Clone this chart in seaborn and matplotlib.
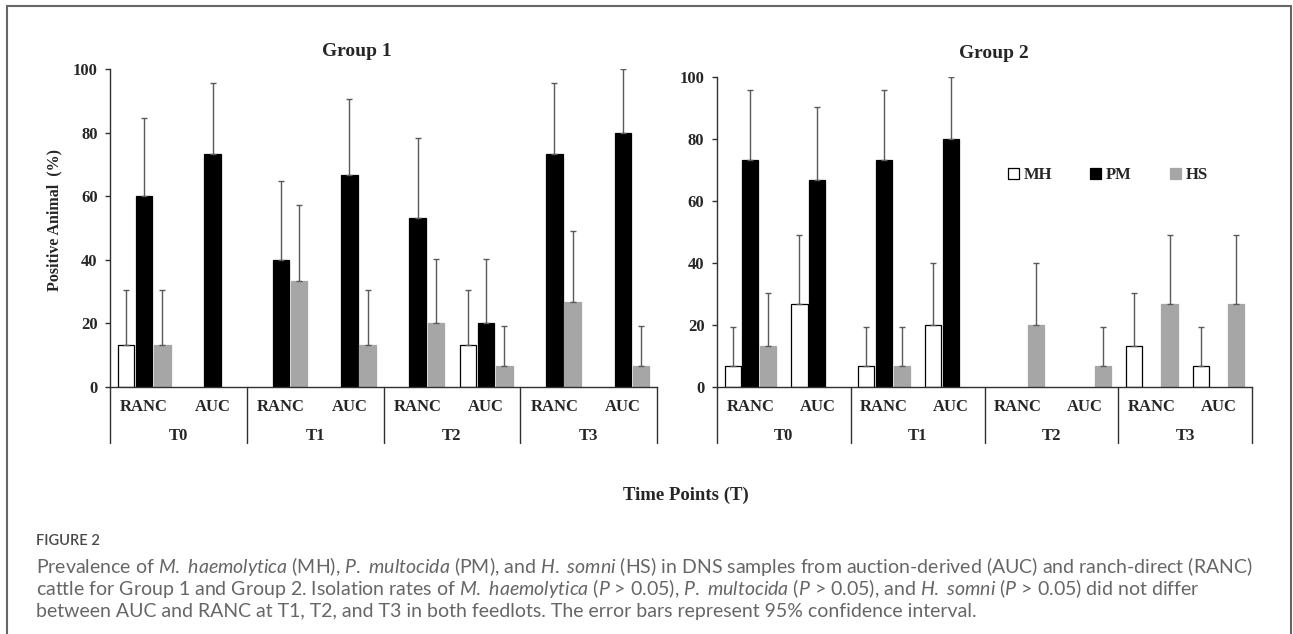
import numpy as np
import pandas as pd
import matplotlib
matplotlib.use("Agg")
import matplotlib.pyplot as plt
from matplotlib.patches import Patch, Rectangle
import seaborn as sns

# slots: T0 RANC, T0 AUC, T1 RANC, T1 AUC, T2 RANC, T2 AUC, T3 RANC, T3 AUC
time_points = ["T0", "T1", "T2", "T3"]
sources = ["RANC", "AUC"]
organisms = ["MH", "PM", "HS"]

g1_mh = [13.3, 0, 0, 0, 0, 13.3, 0, 0]
g1_pm = [60.0, 73.3, 40.0, 66.7, 53.3, 20.0, 73.3, 80.0]
g1_hs = [13.3, 0, 33.3, 13.3, 20.0, 6.7, 26.7, 6.7]
g1_mh_hi = [30.5, 0, 0, 0, 0, 30.5, 0, 0]
g1_pm_hi = [84.6, 95.7, 64.8, 90.5, 78.4, 40.3, 95.7, 100.0]
g1_hs_hi = [30.5, 0, 57.2, 30.5, 40.3, 19.1, 49.1, 19.1]

g2_mh = [6.7, 26.7, 6.7, 20.0, 0, 0, 13.3, 6.7]
g2_pm = [73.3, 66.7, 73.3, 80.0, 0, 0, 0, 0]
g2_hs = [13.3, 0, 6.7, 0, 20.0, 6.7, 26.7, 26.7]
g2_mh_hi = [19.3, 49.1, 19.3, 40.0, 0, 0, 30.3, 19.3]
g2_pm_hi = [95.7, 90.3, 95.7, 100.0, 0, 0, 0, 0]
g2_hs_hi = [30.3, 0, 19.3, 0, 40.0, 19.3, 49.1, 49.1]

colors = {"MH": "white", "PM": "black", "HS": "#a6a6a6"}
edges = {"MH": "black", "PM": "black", "HS": "#a6a6a6"}

W, H = 1293, 634
sns.set_style("white")
plt.rcParams["font.family"] = ["Liberation Serif", "DejaVu Serif"]
plt.rcParams["mathtext.fontset"] = "custom"
plt.rcParams["mathtext.rm"] = "Lato:weight=normal"
plt.rcParams["mathtext.it"] = "Lato:style=italic:weight=normal"


def fx(px):
    return px / W


def fy(py):
    return 1 - py / H


def long_form(mh, pm, hs):
    slots = [t + "-" + s for t in time_points for s in sources]
    rows = []
    for org, vals in zip(organisms, [mh, pm, hs]):
        for slot, v in zip(slots, vals):
            rows.append({"slot": slot, "organism": org, "value": v})
    return pd.DataFrame(rows), slots


def panel(ax, mh, pm, hs, his, title, title_xy):
    df, slots = long_form(mh, pm, hs)
    sns.barplot(data=df, x="slot", y="value", hue="organism", order=slots,
                hue_order=organisms, palette=colors, width=0.8, gap=0.1,
                saturation=1, errorbar=None, legend=False, ax=ax)
    for org, cont, hi in zip(organisms, ax.containers, his):
        for bar, top in zip(cont, hi):
            h = bar.get_height()
            bar.set_edgecolor(edges[org])
            bar.set_linewidth(0.9)
            if h <= 0:
                bar.set_visible(False)
                continue
            cx = bar.get_x() + bar.get_width() / 2
            ax.errorbar(cx, h, yerr=[[0], [top - h]], fmt="none", ecolor="#5a5a5a",
                        elinewidth=1.0, capsize=2.3, capthick=1.0, zorder=3)

    ax.set_ylim(0, 100)
    ax.set_xlim(-0.5, 7.5)
    ax.set_yticks([0, 20, 40, 60, 80, 100])
    ax.tick_params(axis="y", labelsize=12, length=3.5, width=1, color="#303030",
                   left=True, pad=5.5)
    for lab in ax.get_yticklabels():
        lab.set_fontweight("bold")
    ax.set_xticks([])
    ax.set_xlabel("")
    ax.set_ylabel("")
    sns.despine(ax=ax)
    for side in ["left", "bottom"]:
        ax.spines[side].set_color("#303030")
        ax.spines[side].set_linewidth(1.0)

    hpx = ax.get_position().height * H
    trans = ax.get_xaxis_transform()
    for i, slot in enumerate(slots):
        ax.text(i, -20 / hpx, slot.split("-")[1], transform=trans, ha="center",
                va="center", fontsize=12, fontweight="bold")
    for k, t in enumerate(time_points):
        ax.text(2 * k + 0.5, -49 / hpx, t, transform=trans, ha="center",
                va="center", fontsize=12, fontweight="bold")
    for xb in [-0.5, 1.5, 3.5, 5.5, 7.5]:
        ax.plot([xb, xb], [0, -56 / hpx], transform=trans, clip_on=False,
                color="#303030", lw=1.0)

    fig.text(fx(title_xy[0]), fy(title_xy[1]), title, ha="center", va="center",
             fontsize=14, fontweight="bold")


fig = plt.figure(figsize=(W / 100, H / 100), dpi=100)

ax1 = fig.add_axes([fx(110), fy(387), (657 - 110) / W, (387 - 69) / H])
ax2 = fig.add_axes([fx(717), fy(387), (1252 - 717) / W, (387 - 77) / H])

panel(ax1, g1_mh, g1_pm, g1_hs, [g1_mh_hi, g1_pm_hi, g1_hs_hi], "Group 1", (357, 52))
panel(ax2, g2_mh, g2_pm, g2_hs, [g2_mh_hi, g2_pm_hi, g2_hs_hi], "Group 2", (994, 53))

fig.text(fx(54), fy(220), "Positive Animal  (%)", rotation=90, ha="center",
         va="center", fontsize=11.5, fontweight="bold")
fig.text(fx(686), fy(495), "Time Points (T)", ha="center", va="center",
         fontsize=13.5, fontweight="bold")

handles = [Patch(facecolor=colors[o], edgecolor=edges[o], linewidth=0.9) for o in organisms]
fig.legend(handles, organisms, loc="center", bbox_to_anchor=(fx(1108), fy(175)),
           ncol=3, frameon=False, handlelength=0.65, handleheight=0.65,
           handletextpad=0.3, columnspacing=2.3, prop={"size": 12, "weight": "bold"})

# frame around the figure panel
fig.patches.append(Rectangle((fx(7), -0.05), fx(1291) - fx(7), fy(6) + 0.05,
                             transform=fig.transFigure, fill=False,
                             edgecolor="#666666", lw=1.5))

# caption
cap_color = "#666666"
fig.text(fx(36), fy(541), "FIGURE 2", ha="left", va="center", fontsize=10.5,
         family="Lato", fontweight="semibold", color="#4a4a4a")
lines = [
    r"Prevalence of $\mathit{M.\ haemolytica}$ (MH), $\mathit{P.\ multocida}$ (PM), and "
    r"$\mathit{H.\ somni}$ (HS) in DNS samples from auction-derived (AUC) and ranch-direct (RANC)",
    r"cattle for Group 1 and Group 2. Isolation rates of $\mathit{M.\ haemolytica}$ "
    r"($\mathit{P}$ > 0.05), $\mathit{P.\ multocida}$ ($\mathit{P}$ > 0.05), and "
    r"$\mathit{H.\ somni}$ ($\mathit{P}$ > 0.05) did not differ",
    "between AUC and RANC at T1, T2, and T3 in both feedlots. "
    "The error bars represent 95% confidence interval.",
]
ys = [566, 589, 612]
txts = [fig.text(fx(36), fy(y), s, ha="left", va="center", fontsize=12,
                 family="Lato", fontweight="normal", color=cap_color)
        for s, y in zip(lines, ys)]
fig.canvas.draw()
w1 = txts[0].get_window_extent().width
scale = (1249 - 36) / w1
for t in txts:
    t.set_fontsize(12 * scale)

fig.savefig("out.png", dpi=100)
